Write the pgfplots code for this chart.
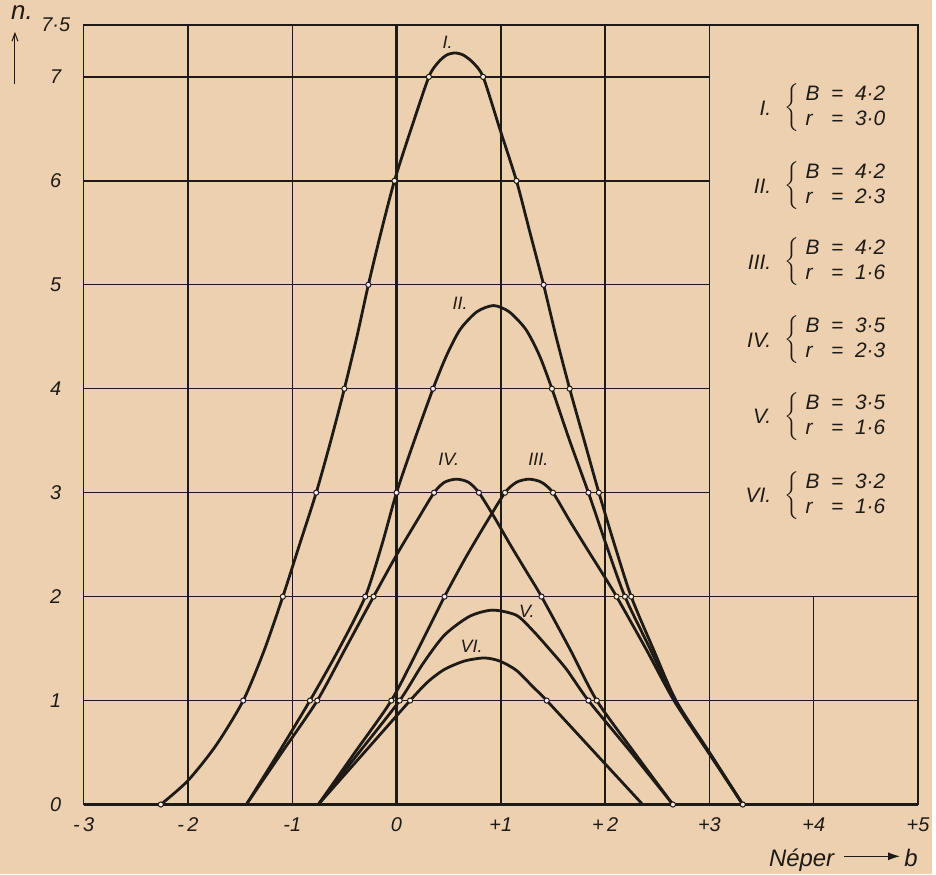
\documentclass[border=0pt]{standalone}
\usepackage{fontspec}
\setmainfont{Liberation Sans}
\usepackage{pgfplots}
\pgfplotsset{compat=1.18}
\usetikzlibrary{arrows.meta}
\definecolor{paper}{RGB}{236,208,176}
\definecolor{ink}{RGB}{30,26,22}
\newcommand{\legfont}{\fontsize{10.5}{12}\selectfont\itshape}
\newcommand{\legblock}[4]{%
  \node[anchor=east,font=\legfont,ink] at (axis cs:3.66,#1) {#2};
  \node[anchor=west,font=\legfont,ink,inner sep=0pt] at (axis cs:3.72,#1)
    {$\left\{\renewcommand{\arraystretch}{1.05}\begin{tabular}{@{\ }l@{\ \ }c@{\ \ }l@{}}B&=&#3\\ r&=&#4\end{tabular}\right.$};}
\pgfplotsset{curve/.style={ink, line width=1.4pt, smooth, tension=0.45}}
\begin{document}
\begin{tikzpicture}
\fill[paper] (-42pt,-35pt) rectangle (426pt,404pt);
\begin{axis}[
    scale only axis,
    width=419pt, height=391.5pt,
    xmin=-3, xmax=5, ymin=0, ymax=7.5,
    axis line style={draw=none},
    major tick length=0pt,
    clip=false,
    xtick={-3,...,5},
    xticklabels={-\,3,-\,2,-1,0,+1,+\,2,+3,+4,+5},
    ytick={0,1,2,3,4,5,6,7,7.5},
    yticklabels={0,1,2,3,4,5,6,7,7·5},
    tick label style={font=\fontsize{10}{12}\selectfont\itshape, text=ink},
    xticklabel style={anchor=center, yshift=-10pt},
    yticklabel style={anchor=center, xshift=-14pt},
]
% grid
\pgfplotsinvokeforeach{-2,-1,1,2,3}{\draw[ink, line width=0.7pt] (axis cs:#1,0) -- (axis cs:#1,7.5);}
\pgfplotsinvokeforeach{1,2}{\draw[ink, line width=0.7pt] (axis cs:-3,#1) -- (axis cs:5,#1);}
\pgfplotsinvokeforeach{3,4,5,6,7}{\draw[ink, line width=0.7pt] (axis cs:-3,#1) -- (axis cs:3,#1);}
\draw[ink, line width=0.7pt] (axis cs:4,0) -- (axis cs:4,2);
\draw[ink, line width=0.7pt] (axis cs:-3,0) rectangle (axis cs:5,7.5);
\draw[ink, line width=1.2pt] (axis cs:0,0) -- (axis cs:0,7.5);
\draw[ink, line width=1.2pt] (axis cs:-3,0) -- (axis cs:5,0);

% I  (B = 4.2, r = 3.0)
\addplot[curve] coordinates {
  (-2.26,0)(-2.0,0.23)(-1.73,0.57)(-1.47,1)(-1.27,1.48)(-1.09,2)(-0.93,2.5)(-0.77,3)
  (-0.63,3.5)(-0.50,4)(-0.38,4.5)(-0.27,5)(-0.15,5.5)(-0.02,6)(0.14,6.5)(0.31,7)
  (0.40,7.14)(0.48,7.21)(0.56,7.23)(0.64,7.21)(0.73,7.14)(0.83,7)(0.99,6.5)(1.15,6)
  (1.28,5.5)(1.41,5)(1.53,4.5)(1.66,4)(1.80,3.5)(1.94,3)(2.09,2.5)(2.25,2)(2.46,1.5)
  (2.68,1)(3.0,0.5)(3.32,0)};
% II  (B = 4.2, r = 2.3)
\addplot[curve] coordinates {
  (-1.44,0)(-1.13,0.5)(-0.83,1)(-0.55,1.5)(-0.30,2)(-0.14,2.5)(0.0,3)(0.17,3.5)(0.35,4)
  (0.48,4.32)(0.61,4.57)(0.77,4.74)(0.93,4.80)(1.08,4.74)(1.24,4.57)(1.37,4.32)(1.49,4)
  (1.66,3.5)(1.84,3)(2.01,2.5)(2.19,2)(2.43,1.5)(2.67,1)(3.0,0.5)(3.32,0)};
% III (B = 4.2, r = 1.6)
\addplot[curve] coordinates {
  (-0.75,0)(-0.40,0.5)(-0.05,1)(0.21,1.5)(0.46,2)(0.66,2.37)(0.86,2.71)(1.04,3.0)
  (1.15,3.10)(1.27,3.13)(1.39,3.10)(1.50,3.0)(1.66,2.73)(1.82,2.47)(1.97,2.23)(2.11,2)
  (2.39,1.5)(2.66,1)(2.99,0.5)(3.32,0)};
% IV  (B = 3.5, r = 2.3)
\addplot[curve] coordinates {
  (-1.44,0)(-1.10,0.5)(-0.76,1)(-0.49,1.5)(-0.22,2)(0.0,2.4)(0.19,2.72)(0.36,3.0)
  (0.46,3.10)(0.575,3.13)(0.69,3.10)(0.79,3.0)(0.94,2.76)(1.09,2.5)(1.24,2.25)(1.39,2)
  (1.66,1.5)(1.92,1)(2.28,0.5)(2.65,0)};
% V   (B = 3.5, r = 1.6)
\addplot[curve] coordinates {
  (-0.75,0)(-0.36,0.5)(0.03,1)(0.25,1.35)(0.46,1.63)(0.70,1.81)(0.92,1.87)(1.15,1.82)
  (1.31,1.67)(1.47,1.49)(1.63,1.30)(1.84,1)(2.25,0.5)(2.65,0)};
% VI  (B = 3.2, r = 1.6)
\addplot[curve] coordinates {
  (-0.75,0)(-0.31,0.5)(0.13,1)(0.30,1.18)(0.46,1.30)(0.65,1.38)(0.84,1.41)(0.99,1.38)
  (1.15,1.29)(1.31,1.13)(1.44,1)(1.90,0.5)(2.36,0)};

% measured points
\addplot[only marks, mark=*, mark size=1.3pt,
  mark options={fill=paper!40!white, draw=ink, line width=0.5pt}] coordinates {
  (-2.26,0)(-1.47,1)(-1.09,2)(-0.77,3)(-0.50,4)(-0.27,5)(-0.02,6)(0.31,7)
  (0.83,7)(1.15,6)(1.41,5)(1.66,4)(1.94,3)(2.25,2)
  (-0.83,1)(-0.30,2)(0.0,3)(0.35,4)(1.49,4)(1.84,3)(2.19,2)
  (-0.05,1)(0.46,2)(1.04,3)(1.50,3)(2.11,2)
  (-0.76,1)(-0.22,2)(0.36,3)(0.79,3)(1.39,2)(1.92,1)
  (0.03,1)(1.84,1)(0.13,1)(1.44,1)
  (2.65,0)(3.32,0)};

% curve labels
\node[font=\fontsize{9}{10}\selectfont\itshape, ink] at (axis cs:0.49,7.33) {I.};
\node[font=\fontsize{9}{10}\selectfont\itshape, ink] at (axis cs:0.61,4.82) {II.};
\node[font=\fontsize{9}{10}\selectfont\itshape, ink] at (axis cs:0.50,3.32) {IV.};
\node[font=\fontsize{9}{10}\selectfont\itshape, ink] at (axis cs:1.36,3.32) {III.};
\node[font=\fontsize{9}{10}\selectfont\itshape, ink] at (axis cs:1.25,1.86) {V.};
\node[font=\fontsize{9}{10}\selectfont\itshape, ink] at (axis cs:0.72,1.52) {VI.};

% parameter list
\legblock{6.70}{I.}{4·2}{3·0}
\legblock{5.95}{II.}{4·2}{2·3}
\legblock{5.22}{III.}{4·2}{1·6}
\legblock{4.47}{IV.}{3·5}{2·3}
\legblock{3.73}{V.}{3·5}{1·6}
\legblock{2.97}{VI.}{3·2}{1·6}
\end{axis}
% axis names
\node[anchor=base west, font=\fontsize{12}{14}\selectfont\itshape, ink, inner sep=0pt] at (344pt,-31pt) {Néper};
\draw[ink, line width=0.6pt, -{Latex[length=6pt,width=4pt]}] (382pt,-26pt) -- (410pt,-26pt);
\node[anchor=base west, font=\fontsize{12}{14}\selectfont\itshape, ink, inner sep=0pt] at (412pt,-31pt) {b};
\node[anchor=base, font=\fontsize{13}{14}\selectfont\itshape, ink, inner sep=0pt] at (-31pt,394pt) {n.};
\draw[ink, line width=0.5pt, -{Straight Barb[length=4pt,width=3pt]}] (-34.5pt,362pt) -- (-34.5pt,388pt);
\end{tikzpicture}
\end{document}
